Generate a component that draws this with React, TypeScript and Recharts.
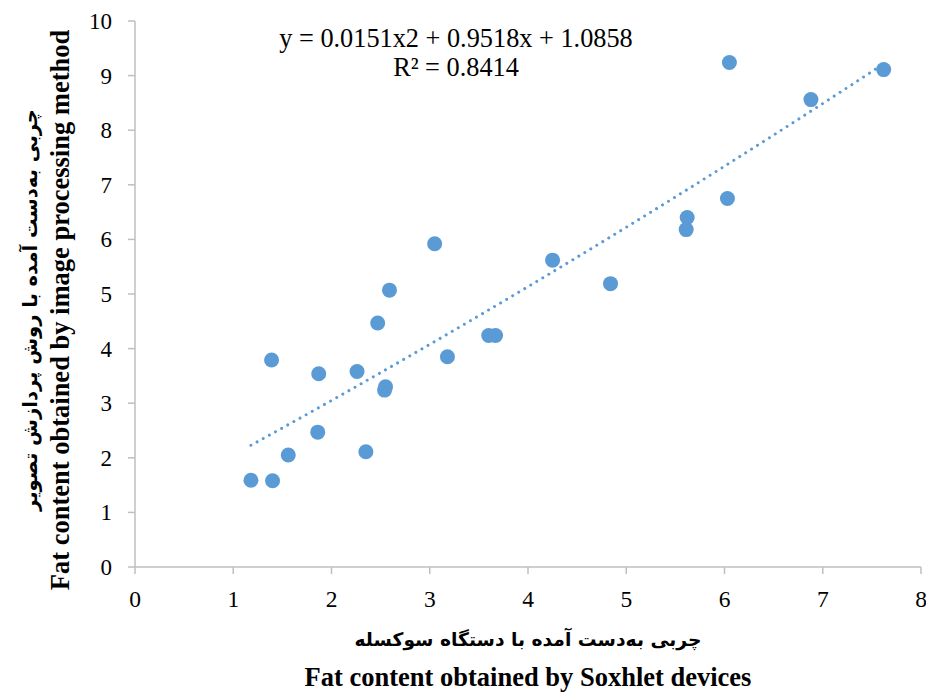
import React from 'react';
import { ScatterChart, Scatter, XAxis, YAxis, Label } from 'recharts';

// Soxhlet (x) vs image processing (y) fat content
const soxhlet = [1.18, 1.40, 1.39, 1.56, 1.87, 1.86, 2.26, 2.35, 2.47, 2.55, 2.54, 2.59, 3.05, 3.18, 3.60, 3.67, 4.25, 4.84, 5.62, 5.61, 6.03, 6.05, 6.88, 7.62];
const imageMethod = [1.59, 1.58, 3.79, 2.05, 3.54, 2.47, 3.58, 2.11, 4.47, 3.30, 3.24, 5.07, 5.92, 3.85, 4.24, 4.24, 5.62, 5.19, 6.40, 6.18, 6.75, 9.24, 8.56, 9.11];

// polynomial trendline as printed on the chart: y = a x^2 + b x + c
const trendCoef = { a: 0.0151, b: 0.9518, c: 1.0858 };
const trendX = [1.18, 1.5, 2, 2.5, 3, 3.5, 4, 4.5, 5, 5.5, 6, 6.5, 7, 7.62];

const xDomain = [0, 8];
const yDomain = [0, 10];
const xTicks = [0, 1, 2, 3, 4, 5, 6, 7, 8];
const yTicks = [0, 1, 2, 3, 4, 5, 6, 7, 8, 9, 10];

const equationText = 'y = 0.0151x2 + 0.9518x + 1.0858';
const r2Text = 'R² = 0.8414';
const xTitleFa = 'چربی به‌دست آمده با دستگاه سوکسله';
const xTitleEn = 'Fat content obtained by Soxhlet devices';
const yTitleFa = 'چربی به‌دست آمده با روش پردازش تصویر';
const yTitleEn = 'Fat content obtained by image processing method';

const points = soxhlet.map((x, i) => ({ x, y: imageMethod[i] }));
const trend = trendX.map((x) => ({ x, y: trendCoef.a * x * x + trendCoef.b * x + trendCoef.c }));

const BLUE = '#5B9BD5';
const AXIS = '#BFBFBF';
const SERIF = '"Liberation Serif", serif';
const FA = '"DejaVu Sans", sans-serif';

const serif = (size: number, bold = false) => ({ fontFamily: SERIF, fontSize: size, fontWeight: bold ? 700 : 400 });
const farsi = (size: number) => ({ fontFamily: FA, fontSize: size, fontWeight: 700 });

// tick numbers are drawn in the axis label layer so they share the serif font of the titles
const XAxisText = ({ viewBox }: any) => {
  const { x, y, width } = viewBox;
  return (
    <g>
      {xTicks.map((t) => (
        <text key={t} x={x + ((t - xDomain[0]) / (xDomain[1] - xDomain[0])) * width} y={y + 40} textAnchor="middle" fill="#000" style={serif(23.5)}>
          {t}
        </text>
      ))}
      <text x={528} y={640} textAnchor="middle" dominantBaseline="middle" fill="#000" style={farsi(18.7)}>
        {xTitleFa}
      </text>
      <text x={528} y={680} textAnchor="middle" dominantBaseline="middle" fill="#000" style={serif(26.5, true)}>
        {xTitleEn}
      </text>
    </g>
  );
};

const YAxisText = ({ viewBox }: any) => {
  const { x, y, width, height } = viewBox;
  return (
    <g>
      {yTicks.map((t) => (
        <text key={t} x={x + width - 23} y={y + height - ((t - yDomain[0]) / (yDomain[1] - yDomain[0])) * height + 8} textAnchor="end" fill="#000" style={serif(23)}>
          {t}
        </text>
      ))}
      <text x={31} y={310} transform="rotate(-90 31 310)" textAnchor="middle" dominantBaseline="middle" fill="#000" style={farsi(19.5)}>
        {yTitleFa}
      </text>
      <text x={63} y={310} transform="rotate(-90 63 310)" textAnchor="middle" dominantBaseline="middle" fill="#000" style={serif(26.5, true)}>
        {yTitleEn}
      </text>
      <text x={456} y={41} textAnchor="middle" dominantBaseline="middle" fill="#000" style={serif(26.3)}>
        {equationText}
      </text>
      <text x={456} y={70} textAnchor="middle" dominantBaseline="middle" fill="#000" style={serif(26.3)}>
        {r2Text}
      </text>
    </g>
  );
};

export default function App() {
  return (
    <div style={{ position: 'absolute', left: 0, top: 0, background: '#fff' }}>
      <ScatterChart width={926} height={693} margin={{ top: 21, right: 5, bottom: 0, left: 0 }}>
        <XAxis
          type="number"
          dataKey="x"
          domain={xDomain}
          ticks={xTicks}
          allowDataOverflow
          height={126}
          stroke={AXIS}
          strokeWidth={1.5}
          tickSize={7}
          tick={() => <g />}
        >
          <Label content={(props: any) => <XAxisText {...props} />} />
        </XAxis>
        <YAxis
          type="number"
          dataKey="y"
          domain={yDomain}
          ticks={yTicks}
          allowDataOverflow
          width={135}
          stroke={AXIS}
          strokeWidth={1.5}
          tickSize={7}
          tick={() => <g />}
        >
          <Label content={(props: any) => <YAxisText {...props} />} />
        </YAxis>
        <Scatter
          data={trend}
          isAnimationActive={false}
          line={{ stroke: BLUE, strokeWidth: 3, strokeDasharray: '0.01 7', strokeLinecap: 'round' }}
          lineJointType="monotoneX"
          shape={() => <g />}
        />
        <Scatter
          data={points}
          fill={BLUE}
          isAnimationActive={false}
          shape={(props: any) => <circle cx={props.cx} cy={props.cy} r={7.5} fill={BLUE} />}
        />
      </ScatterChart>
    </div>
  );
}
